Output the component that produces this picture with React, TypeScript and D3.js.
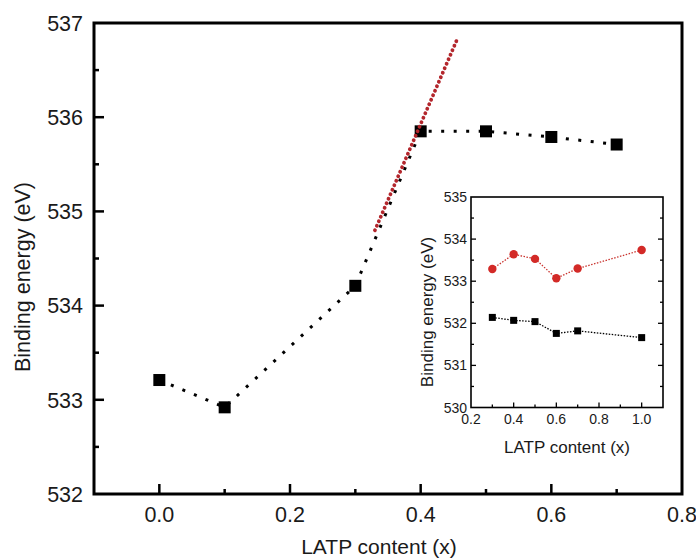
import React, { useEffect, useRef } from "react";
import * as d3 from "d3";

// main panel
const mainX = [0.0, 0.1, 0.3, 0.4, 0.5, 0.6, 0.7];
const mainY = [533.21, 532.92, 534.21, 535.85, 535.85, 535.79, 535.71];
// red linear fit segment (end points)
const fitX = [0.33, 0.456];
const fitY = [534.8, 536.83];
const mainXTicks = [0.0, 0.2, 0.4, 0.6, 0.8];
const mainYTicks = [532, 533, 534, 535, 536, 537];

// inset
const insetX = [0.3, 0.4, 0.5, 0.6, 0.7, 1.0];
const insetRed = [533.29, 533.64, 533.53, 533.07, 533.3, 533.74];
const insetBlack = [532.14, 532.07, 532.04, 531.76, 531.82, 531.66];
const insetXTicks = [0.2, 0.4, 0.6, 0.8, 1.0];
const insetYTicks = [530, 531, 532, 533, 534, 535];

const FONT = "'Liberation Sans', Arial, sans-serif";

export default function App() {
  const ref = useRef<SVGSVGElement>(null);

  useEffect(() => {
    const svg = d3.select(ref.current);
    svg.selectAll("*").remove();

    const x = d3.scaleLinear().domain([-0.1, 0.8]).range([94, 682]);
    const y = d3.scaleLinear().domain([532, 537]).range([494, 23]);

    const g = svg.append("g");

    // frame
    g.append("rect")
      .attr("x", x(-0.1))
      .attr("y", y(537))
      .attr("width", x(0.8) - x(-0.1))
      .attr("height", y(532) - y(537))
      .attr("fill", "none")
      .attr("stroke", "#000")
      .attr("stroke-width", 3);

    // bottom ticks (inward)
    const xMinor = d3.range(-0.1, 0.81, 0.1).map((v) => +v.toFixed(2));
    g.selectAll(".xt")
      .data(xMinor.filter((v) => v > -0.1 && v < 0.8))
      .enter()
      .append("line")
      .attr("x1", (d) => x(d))
      .attr("x2", (d) => x(d))
      .attr("y1", y(532))
      .attr("y2", (d) => y(532) - (Math.round(d * 10) % 2 === 0 ? 10 : 5))
      .attr("stroke", "#000")
      .attr("stroke-width", 2.5);

    const yMinor = d3.range(532.5, 537, 0.5);
    g.selectAll(".yt")
      .data(yMinor)
      .enter()
      .append("line")
      .attr("x1", x(-0.1))
      .attr("x2", (d) => x(-0.1) + (d % 1 === 0 ? 10 : 5))
      .attr("y1", (d) => y(d))
      .attr("y2", (d) => y(d))
      .attr("stroke", "#000")
      .attr("stroke-width", 2.5);

    g.selectAll(".xl")
      .data(mainXTicks)
      .enter()
      .append("text")
      .attr("x", (d) => x(d))
      .attr("y", 522)
      .attr("text-anchor", "middle")
      .attr("font-family", FONT)
      .attr("font-size", 21.5)
      .attr("fill", "#1a1a1a")
      .text((d) => d.toFixed(1));

    g.selectAll(".yl")
      .data(mainYTicks)
      .enter()
      .append("text")
      .attr("x", 83)
      .attr("y", (d) => y(d))
      .attr("dy", "0.36em")
      .attr("text-anchor", "end")
      .attr("font-family", FONT)
      .attr("font-size", 21.5)
      .attr("fill", "#1a1a1a")
      .text((d) => d);

    g.append("text")
      .attr("x", 379)
      .attr("y", 554)
      .attr("text-anchor", "middle")
      .attr("font-family", FONT)
      .attr("font-size", 21)
      .attr("fill", "#1a1a1a")
      .text("LATP content (x)");

    g.append("text")
      .attr("transform", `translate(30,277) rotate(-90)`)
      .attr("text-anchor", "middle")
      .attr("font-family", FONT)
      .attr("font-size", 21.5)
      .attr("fill", "#1a1a1a")
      .text("Binding energy (eV)");

    const mainPts = mainX.map((v, i) => [v, mainY[i]] as [number, number]);
    const line = d3
      .line<[number, number]>()
      .x((d) => x(d[0]))
      .y((d) => y(d[1]));

    g.append("path")
      .attr("d", line(mainPts))
      .attr("fill", "none")
      .attr("stroke", "#000")
      .attr("stroke-width", 3)
      .attr("stroke-dasharray", "3 9.5");

    const fitPts = fitX.map((v, i) => [v, fitY[i]] as [number, number]);

    g.selectAll(".sq")
      .data(mainPts)
      .enter()
      .append("rect")
      .attr("x", (d) => x(d[0]) - 6)
      .attr("y", (d) => y(d[1]) - 6)
      .attr("width", 12)
      .attr("height", 12)
      .attr("fill", "#000");

    g.append("path")
      .attr("d", line(fitPts))
      .attr("fill", "none")
      .attr("stroke", "#b3262c")
      .attr("stroke-width", 3.8)
      .attr("stroke-linecap", "round")
      .attr("stroke-dasharray", "0.1 4.8");

    // ---- inset ----
    const ix = d3.scaleLinear().domain([0.2, 1.1]).range([471, 663]);
    const iy = d3.scaleLinear().domain([530, 535]).range([407.5, 197]);
    const ig = svg.append("g");

    ig.append("rect")
      .attr("x", ix(0.2))
      .attr("y", iy(535))
      .attr("width", ix(1.1) - ix(0.2))
      .attr("height", iy(530) - iy(535))
      .attr("fill", "none")
      .attr("stroke", "#000")
      .attr("stroke-width", 1.6);

    const ixMinor = d3.range(3, 11).map((v) => v / 10);
    ig.selectAll(".ixt")
      .data(ixMinor)
      .enter()
      .append("line")
      .attr("x1", (d) => ix(d))
      .attr("x2", (d) => ix(d))
      .attr("y1", iy(530))
      .attr("y2", (d) => iy(530) - (Math.round(d * 10) % 2 === 0 ? 5 : 3))
      .attr("stroke", "#000")
      .attr("stroke-width", 1.3);

    const iyMinor = d3.range(530.5, 535, 0.5);
    [ix(0.2), ix(1.1)].forEach((edge, k) => {
      ig.selectAll(".iyt" + k)
        .data(iyMinor)
        .enter()
        .append("line")
        .attr("x1", edge)
        .attr("x2", (d) => edge + (k === 0 ? 1 : -1) * (d % 1 === 0 ? 5 : 3))
        .attr("y1", (d) => iy(d))
        .attr("y2", (d) => iy(d))
        .attr("stroke", "#000")
        .attr("stroke-width", 1.3);
    });

    ig.selectAll(".ixl")
      .data(insetXTicks)
      .enter()
      .append("text")
      .attr("x", (d) => ix(d))
      .attr("y", 424)
      .attr("text-anchor", "middle")
      .attr("font-family", FONT)
      .attr("font-size", 14)
      .attr("fill", "#1a1a1a")
      .text((d) => d.toFixed(1));

    ig.selectAll(".iyl")
      .data(insetYTicks)
      .enter()
      .append("text")
      .attr("x", 467)
      .attr("y", (d) => iy(d))
      .attr("dy", "0.36em")
      .attr("text-anchor", "end")
      .attr("font-family", FONT)
      .attr("font-size", 14)
      .attr("fill", "#1a1a1a")
      .text((d) => d);

    ig.append("text")
      .attr("x", 567)
      .attr("y", 453)
      .attr("text-anchor", "middle")
      .attr("font-family", FONT)
      .attr("font-size", 17)
      .attr("fill", "#1a1a1a")
      .text("LATP content (x)");

    ig.append("text")
      .attr("transform", `translate(433,312) rotate(-90)`)
      .attr("text-anchor", "middle")
      .attr("font-family", FONT)
      .attr("font-size", 17)
      .attr("fill", "#1a1a1a")
      .text("Binding energy (eV)");

    const iline = d3
      .line<[number, number]>()
      .x((d) => ix(d[0]))
      .y((d) => iy(d[1]));
    const redPts = insetX.map((v, i) => [v, insetRed[i]] as [number, number]);
    const blackPts = insetX.map((v, i) => [v, insetBlack[i]] as [number, number]);

    ig.append("path")
      .attr("d", iline(redPts))
      .attr("fill", "none")
      .attr("stroke", "#c9342f")
      .attr("stroke-width", 1.3)
      .attr("stroke-dasharray", "1.5 1.5");
    ig.append("path")
      .attr("d", iline(blackPts))
      .attr("fill", "none")
      .attr("stroke", "#000")
      .attr("stroke-width", 1.3)
      .attr("stroke-dasharray", "1.5 1.5");

    ig.selectAll(".ic")
      .data(redPts)
      .enter()
      .append("circle")
      .attr("cx", (d) => ix(d[0]))
      .attr("cy", (d) => iy(d[1]))
      .attr("r", 4.2)
      .attr("fill", "#d32a27");

    ig.selectAll(".is")
      .data(blackPts)
      .enter()
      .append("rect")
      .attr("x", (d) => ix(d[0]) - 3.5)
      .attr("y", (d) => iy(d[1]) - 3.5)
      .attr("width", 7)
      .attr("height", 7)
      .attr("fill", "#000");
  }, []);

  return (
    <svg
      ref={ref}
      width={696}
      height={560}
      style={{ position: "absolute", left: 0, top: 0, background: "#fff" }}
    />
  );
}
